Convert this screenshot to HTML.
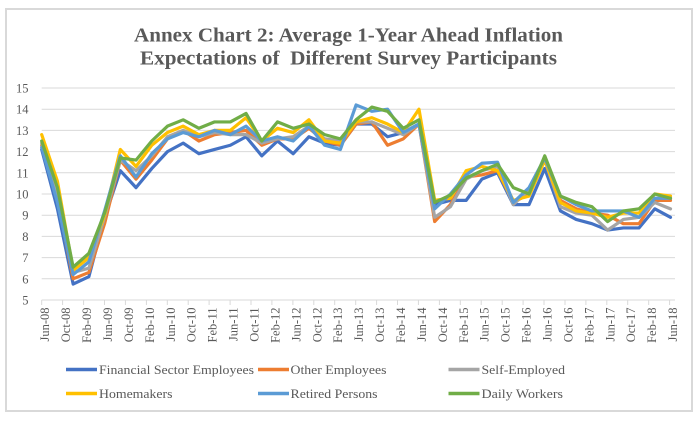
<!DOCTYPE html>
<html>
<head>
<meta charset="utf-8">
<style>
html,body{margin:0;padding:0;background:#fff;}
svg{display:block;}
text{font-family:"Liberation Serif","Times New Roman",serif;fill:#595959;}
</style>
</head>
<body>
<svg width="700" height="421" viewBox="0 0 700 421" xmlns="http://www.w3.org/2000/svg">
<rect x="0" y="0" width="700" height="421" fill="#fff"/>
<rect x="6" y="9" width="686" height="402" fill="#fff" stroke="#d9d9d9" stroke-width="2"/>

<!-- Title -->
<text x="134" y="41.5" font-size="19.5" font-weight="bold" textLength="429" lengthAdjust="spacingAndGlyphs">Annex Chart 2: Average 1-Year Ahead Inflation</text>
<text x="140" y="64.5" font-size="19.5" font-weight="bold" textLength="417" lengthAdjust="spacingAndGlyphs" xml:space="preserve">Expectations of  Different Survey Participants</text>

<!-- Gridlines -->
<g stroke="#d9d9d9" stroke-width="1">
<line x1="41.7" y1="88" x2="675" y2="88"/>
<line x1="41.7" y1="109.2" x2="675" y2="109.2"/>
<line x1="41.7" y1="130.4" x2="675" y2="130.4"/>
<line x1="41.7" y1="151.6" x2="675" y2="151.6"/>
<line x1="41.7" y1="172.8" x2="675" y2="172.8"/>
<line x1="41.7" y1="194" x2="675" y2="194"/>
<line x1="41.7" y1="215.2" x2="675" y2="215.2"/>
<line x1="41.7" y1="236.4" x2="675" y2="236.4"/>
<line x1="41.7" y1="257.6" x2="675" y2="257.6"/>
<line x1="41.7" y1="278.8" x2="675" y2="278.8"/>
<line x1="41.7" y1="300" x2="675" y2="300"/>
</g>
<!-- x ticks -->
<g stroke="#d9d9d9" stroke-width="1">
<line x1="41.7" y1="300" x2="41.7" y2="305"/><line x1="62.6" y1="300" x2="62.6" y2="305"/><line x1="83.6" y1="300" x2="83.6" y2="305"/><line x1="104.5" y1="300" x2="104.5" y2="305"/><line x1="125.4" y1="300" x2="125.4" y2="305"/><line x1="146.4" y1="300" x2="146.4" y2="305"/><line x1="167.3" y1="300" x2="167.3" y2="305"/><line x1="188.2" y1="300" x2="188.2" y2="305"/><line x1="209.1" y1="300" x2="209.1" y2="305"/><line x1="230.1" y1="300" x2="230.1" y2="305"/><line x1="251" y1="300" x2="251" y2="305"/><line x1="271.9" y1="300" x2="271.9" y2="305"/><line x1="292.9" y1="300" x2="292.9" y2="305"/><line x1="313.8" y1="300" x2="313.8" y2="305"/><line x1="334.7" y1="300" x2="334.7" y2="305"/><line x1="355.7" y1="300" x2="355.7" y2="305"/><line x1="376.6" y1="300" x2="376.6" y2="305"/><line x1="397.5" y1="300" x2="397.5" y2="305"/><line x1="418.4" y1="300" x2="418.4" y2="305"/><line x1="439.4" y1="300" x2="439.4" y2="305"/><line x1="460.3" y1="300" x2="460.3" y2="305"/><line x1="481.2" y1="300" x2="481.2" y2="305"/><line x1="502.2" y1="300" x2="502.2" y2="305"/><line x1="523.1" y1="300" x2="523.1" y2="305"/><line x1="544" y1="300" x2="544" y2="305"/><line x1="565" y1="300" x2="565" y2="305"/><line x1="585.9" y1="300" x2="585.9" y2="305"/><line x1="606.8" y1="300" x2="606.8" y2="305"/><line x1="627.7" y1="300" x2="627.7" y2="305"/><line x1="648.7" y1="300" x2="648.7" y2="305"/><line x1="669.6" y1="300" x2="669.6" y2="305"/>
</g>

<!-- Y labels -->
<g font-size="12.5" text-anchor="end">
<text x="28.5" y="92.5">15</text>
<text x="28.5" y="113.7">14</text>
<text x="28.5" y="134.9">13</text>
<text x="28.5" y="156.1">12</text>
<text x="28.5" y="177.3">11</text>
<text x="28.5" y="198.5">10</text>
<text x="28.5" y="219.7">9</text>
<text x="28.5" y="240.9">8</text>
<text x="28.5" y="262.1">7</text>
<text x="28.5" y="283.3">6</text>
<text x="28.5" y="304.5">5</text>
</g>

<!-- X labels -->
<g font-size="12.5" text-anchor="end">
<text transform="translate(49.2,307.5) rotate(-90)">Jun-08</text>
<text transform="translate(70.1,307.5) rotate(-90)">Oct-08</text>
<text transform="translate(91.1,307.5) rotate(-90)">Feb-09</text>
<text transform="translate(112,307.5) rotate(-90)">Jun-09</text>
<text transform="translate(132.9,307.5) rotate(-90)">Oct-09</text>
<text transform="translate(153.9,307.5) rotate(-90)">Feb-10</text>
<text transform="translate(174.8,307.5) rotate(-90)">Jun-10</text>
<text transform="translate(195.7,307.5) rotate(-90)">Oct-10</text>
<text transform="translate(216.6,307.5) rotate(-90)">Feb-11</text>
<text transform="translate(237.6,307.5) rotate(-90)">Jun-11</text>
<text transform="translate(258.5,307.5) rotate(-90)">Oct-11</text>
<text transform="translate(279.4,307.5) rotate(-90)">Feb-12</text>
<text transform="translate(300.4,307.5) rotate(-90)">Jun-12</text>
<text transform="translate(321.3,307.5) rotate(-90)">Oct-12</text>
<text transform="translate(342.2,307.5) rotate(-90)">Feb-13</text>
<text transform="translate(363.2,307.5) rotate(-90)">Jun-13</text>
<text transform="translate(384.1,307.5) rotate(-90)">Oct-13</text>
<text transform="translate(405,307.5) rotate(-90)">Feb-14</text>
<text transform="translate(425.9,307.5) rotate(-90)">Jun-14</text>
<text transform="translate(446.9,307.5) rotate(-90)">Oct-14</text>
<text transform="translate(467.8,307.5) rotate(-90)">Feb-15</text>
<text transform="translate(488.7,307.5) rotate(-90)">Jun-15</text>
<text transform="translate(509.7,307.5) rotate(-90)">Oct-15</text>
<text transform="translate(530.6,307.5) rotate(-90)">Feb-16</text>
<text transform="translate(551.5,307.5) rotate(-90)">Jun-16</text>
<text transform="translate(572.5,307.5) rotate(-90)">Oct-16</text>
<text transform="translate(593.4,307.5) rotate(-90)">Feb-17</text>
<text transform="translate(614.3,307.5) rotate(-90)">Jun-17</text>
<text transform="translate(635.2,307.5) rotate(-90)">Oct-17</text>
<text transform="translate(656.2,307.5) rotate(-90)">Feb-18</text>
<text transform="translate(677.1,307.5) rotate(-90)">Jun-18</text>
</g>

<!-- Series -->
<g transform="translate(41.7,406) scale(15.72,-21.2)" fill="none" stroke-width="3.2" stroke-linejoin="round" stroke-linecap="round">
<polyline vector-effect="non-scaling-stroke" stroke="#4472C4" points="0,12.1 1,9.3 2,5.75 3,6.1 4,8.9 5,11.1 6,10.3 7,11.2 8,12.0 9,12.4 10,11.9 11,12.1 12,12.3 13,12.7 14,11.8 15,12.5 16,11.9 17,12.7 18,12.4 19,12.3 20,13.3 21,13.3 22,12.7 23,12.9 24,13.3 25,9.5 26,9.7 27,9.7 28,10.7 29,11.0 30,9.5 31,9.5 32,11.2 33,9.2 34,8.8 35,8.6 36,8.3 37,8.4 38,8.4 39,9.3 40,8.9"/>
<polyline vector-effect="non-scaling-stroke" stroke="#ED7D31" points="0,12.3 1,9.8 2,6.0 3,6.3 4,8.6 5,11.6 6,10.7 7,11.6 8,12.6 9,13.0 10,12.5 11,12.8 12,12.9 13,13.0 14,12.3 15,12.6 16,12.6 17,13.1 18,12.5 19,12.3 20,13.3 21,13.4 22,12.3 23,12.6 24,13.3 25,8.7 26,9.5 27,10.8 28,10.9 29,11.1 30,9.6 31,10.0 32,11.6 33,9.7 34,9.3 35,9.1 36,9.0 37,8.6 38,8.6 39,9.7 40,9.7"/>
<polyline vector-effect="non-scaling-stroke" stroke="#A5A5A5" points="0,12.4 1,9.8 2,6.3 3,6.5 4,8.9 5,11.6 6,11.1 7,11.8 8,12.7 9,13.0 10,12.7 11,12.9 12,12.8 13,12.8 14,12.4 15,12.6 16,12.7 17,13.2 18,12.6 19,12.5 20,13.4 21,13.4 22,13.1 23,12.8 24,13.3 25,8.9 26,9.4 27,10.7 28,11.1 29,11.3 30,9.5 31,10.2 32,11.6 33,9.4 34,9.1 35,9.0 36,8.3 37,8.8 38,8.9 39,9.6 40,9.3"/>
<polyline vector-effect="non-scaling-stroke" stroke="#FFC000" points="0,12.8 1,10.6 2,6.4 3,7.0 4,9.0 5,12.1 6,11.3 7,12.3 8,12.9 9,13.2 10,12.8 11,13.0 12,13.0 13,13.6 14,12.5 15,13.1 16,12.9 17,13.5 18,12.5 19,12.4 20,13.4 21,13.6 22,13.3 23,12.9 24,14.0 25,9.7 26,9.8 27,11.1 28,11.3 29,11.1 30,9.7 31,9.9 32,11.6 33,9.6 34,9.2 35,9.1 36,8.9 37,9.1 38,9.1 39,10.0 40,9.9"/>
<polyline vector-effect="non-scaling-stroke" stroke="#5B9BD5" points="0,12.2 1,9.6 2,6.2 3,6.8 4,9.2 5,11.8 6,10.8 7,11.9 8,12.6 9,12.9 10,12.7 11,13.0 12,12.8 13,13.2 14,12.5 15,12.7 16,12.5 17,13.2 18,12.3 19,12.1 20,14.2 21,13.9 22,14.0 23,12.9 24,13.3 25,9.3 26,10.0 27,10.9 28,11.45 29,11.5 30,9.6 31,10.3 32,11.7 33,9.9 34,9.5 35,9.2 36,9.2 37,9.2 38,8.9 39,9.8 40,9.8"/>
<polyline vector-effect="non-scaling-stroke" stroke="#70AD47" points="0,12.5 1,10.3 2,6.55 3,7.2 4,9.1 5,11.7 6,11.6 7,12.5 8,13.2 9,13.5 10,13.1 11,13.4 12,13.4 13,13.8 14,12.5 15,13.4 16,13.1 17,13.3 18,12.8 19,12.6 20,13.5 21,14.1 22,13.9 23,13.1 24,13.5 25,9.6 26,9.95 27,10.75 28,11.1 29,11.4 30,10.3 31,10.0 32,11.8 33,9.9 34,9.6 35,9.4 36,8.7 37,9.2 38,9.3 39,10.0 40,9.8"/>
</g>

<!-- Legend -->
<g stroke-width="3.5">
<line x1="66" y1="369.5" x2="97" y2="369.5" stroke="#4472C4"/>
<line x1="258" y1="369.5" x2="289" y2="369.5" stroke="#ED7D31"/>
<line x1="448.5" y1="369.5" x2="479.5" y2="369.5" stroke="#A5A5A5"/>
<line x1="66" y1="393.5" x2="97" y2="393.5" stroke="#FFC000"/>
<line x1="258" y1="393.5" x2="289" y2="393.5" stroke="#5B9BD5"/>
<line x1="448.5" y1="393.5" x2="479.5" y2="393.5" stroke="#70AD47"/>
</g>
<g font-size="12.5">
<text x="99" y="373.8" textLength="155" lengthAdjust="spacingAndGlyphs">Financial Sector Employees</text>
<text x="290.5" y="373.8" textLength="96" lengthAdjust="spacingAndGlyphs">Other Employees</text>
<text x="481.5" y="373.8" textLength="83.5" lengthAdjust="spacingAndGlyphs">Self-Employed</text>
<text x="99" y="397.8" textLength="73.5" lengthAdjust="spacingAndGlyphs">Homemakers</text>
<text x="290.5" y="397.8" textLength="87" lengthAdjust="spacingAndGlyphs">Retired Persons</text>
<text x="481.5" y="397.8" textLength="81.5" lengthAdjust="spacingAndGlyphs">Daily Workers</text>
</g>
</svg>
</body>
</html>
